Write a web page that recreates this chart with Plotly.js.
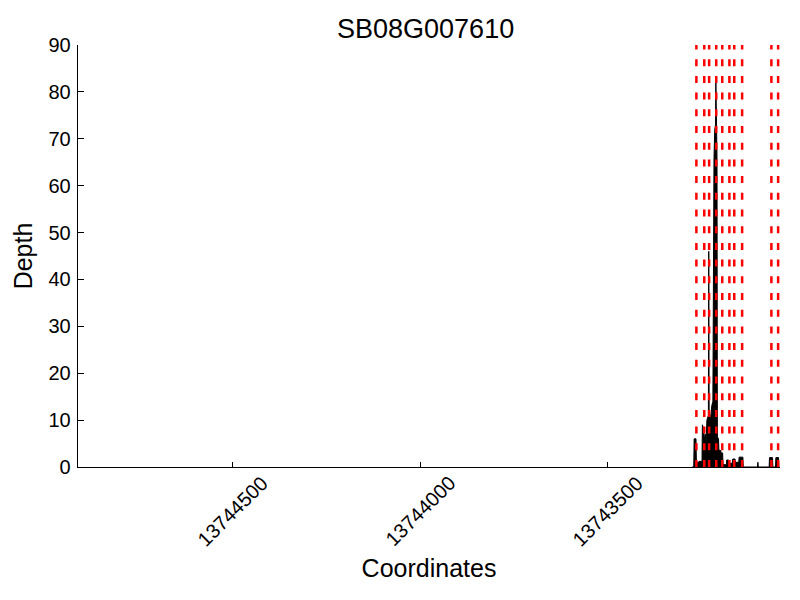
<!DOCTYPE html>
<html>
<head>
<meta charset="utf-8">
<script src="https://cdn.plot.ly/plotly-3.0.1.min.js"></script>
<style>html,body{margin:0;padding:0;background:#fff}#chart{width:800px;height:600px}</style>
</head>
<body>
<div id="chart"></div>
<script>
// Coverage depth along the gene (coordinates, reverse-oriented axis)
var coords = [13743276,13743271,13743270,13743265,13743264,13743258,13743257,13743249,13743248,13743244,
  13743243,13743240,13743238,13743236,13743232,13743231,13743230,13743226,13743223,13743220,
  13743219,13743217,13743215,13743213,13743212,13743211,13743210,13743209,13743208,13743205,
  13743204,13743199,13743198,13743194,13743193,13743184,13743183,13743178,13743177,13743168,
  13743167,13743161,13743160,13743151,13743150,13743140,13743139,13743101,13743100,13743099,
  13743070,13743069,13743061,13743060,13743053,13743052,13743045,13743044];
var depth = [0,0,6,6,1,1,1.2,1.2,9,8,
  6,7,5,10,11,46,12,10,13,14,
  60,66,72,73,82,74,68,66,6.4,6,
  3.6,3.5,3,3,0.5,0.5,1.5,1.5,0.8,0.8,
  1.7,1.7,1,1,2.1,2.1,0,0,1,0,
  0,2,2,0,0,2,2,0];
// Positions of the red dashed marker lines
var cuts = [13743264,13743243,13743230,13743211,13743195,13743176,13743163,13743142,13743064,13743046];
var xTicks = [13744500,13744000,13743500];
var yTicks = [0,10,20,30,40,50,60,70,80,90];
var xRange = [13744913,13743041];
var yRange = [0,90];

var FONT = 'Liberation Sans, Arial, sans-serif';

var traces = [{
  type: 'scatter', mode: 'lines', x: coords, y: depth,
  fill: 'tozeroy', fillcolor: '#000000',
  line: {color: '#000000', width: 1},
  hoverinfo: 'skip', showlegend: false
}];

var shapes = cuts.map(function(c){
  return {type: 'line', xref: 'x', yref: 'paper', x0: c, x1: c, y0: 0, y1: 1,
    line: {color: '#ff0000', width: 2.5, dash: '7px,9.7px'}, layer: 'above'};
});

// x tick labels, rotated 45 degrees about their centre (as in the reference)
var annotations = xTicks.map(function(v){
  return {xref: 'x', yref: 'paper', x: v, y: -0.1043, xanchor: 'center', yanchor: 'middle',
    text: String(v), textangle: -45, showarrow: false,
    font: {family: FONT, size: 20, color: '#000'}};
});

var layout = {
  width: 800, height: 600,
  paper_bgcolor: '#ffffff', plot_bgcolor: '#ffffff',
  margin: {l: 78, r: 20, t: 45, b: 133, pad: 0},
  font: {family: FONT, color: '#000000'},
  title: {text: 'SB08G007610', font: {family: FONT, size: 27, color: '#000'},
    x: 0.532, xanchor: 'center', xref: 'container', y: 0.953, yanchor: 'middle', yref: 'container'},
  showlegend: false,
  xaxis: {
    range: xRange, tickmode: 'array', tickvals: xTicks, ticktext: xTicks.map(String),
    showticklabels: false,
    ticks: 'inside', ticklen: 5, tickwidth: 1, tickcolor: '#000',
    showline: true, linecolor: '#000', linewidth: 1.3, mirror: false,
    showgrid: false, zeroline: false,
    title: {text: 'Coordinates', font: {family: FONT, size: 25, color: '#000'}, standoff: 92}
  },
  yaxis: {
    range: yRange, tickmode: 'array', tickvals: yTicks, ticktext: yTicks.map(String),
    ticks: 'inside', ticklen: 6, tickwidth: 1, tickcolor: '#000',
    showline: true, linecolor: '#000', linewidth: 1.3, mirror: false,
    showgrid: false, zeroline: false, ticklabelstandoff: 2,
    tickfont: {family: FONT, size: 20, color: '#000'},
    title: {text: 'Depth', font: {family: FONT, size: 25, color: '#000'}, standoff: 8}
  },
  shapes: shapes,
  annotations: annotations
};

Plotly.newPlot('chart', traces, layout, {displayModeBar: false, staticPlot: true});
</script>
</body>
</html>
